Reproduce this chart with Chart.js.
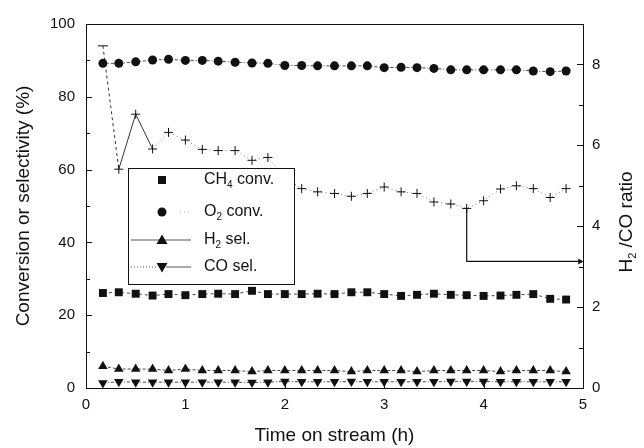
<!DOCTYPE html>
<html>
<head>
<meta charset="utf-8">
<script src="https://cdn.jsdelivr.net/npm/chart.js@4.4.0/dist/chart.umd.min.js"></script>
<style>
  html, body { margin: 0; padding: 0; background: #fff; }
  #wrap { width: 644px; height: 448px; }
</style>
</head>
<body>
<div id="wrap"><canvas id="chart" width="644" height="448"></canvas></div>
<script>
// time on stream, one sample every 10 min
const hours = [0.17, 0.33, 0.5, 0.67, 0.83, 1.0, 1.17, 1.33, 1.5, 1.67, 1.83, 2.0, 2.17, 2.33, 2.5,
  2.67, 2.83, 3.0, 3.17, 3.33, 3.5, 3.67, 3.83, 4.0, 4.17, 4.33, 4.5, 4.67, 4.83];

const ch4Conv = [26.1, 26.3, 25.9, 25.4, 25.8, 25.5, 25.8, 25.9, 25.8, 26.7, 25.8, 25.8, 25.8, 25.9, 25.8,
  26.3, 26.3, 25.8, 25.3, 25.6, 25.9, 25.6, 25.5, 25.3, 25.4, 25.6, 25.8, 24.5, 24.3];
const o2Conv = [89.2, 89.2, 89.6, 90.1, 90.3, 90.0, 90.0, 89.8, 89.5, 89.3, 89.2, 88.6, 88.6, 88.5, 88.5,
  88.5, 88.5, 88.0, 88.1, 88.0, 87.8, 87.4, 87.4, 87.4, 87.4, 87.4, 87.1, 86.9, 87.1];
const h2Sel = [6.0, 5.2, 5.2, 5.2, 4.8, 5.2, 4.8, 4.8, 4.8, 4.5, 4.8, 4.8, 4.8, 4.8, 4.8,
  4.5, 4.8, 4.8, 4.8, 4.5, 4.8, 4.8, 4.8, 4.8, 4.5, 4.8, 4.8, 4.8, 4.5];
const coSel = [1.4, 1.7, 1.6, 1.6, 1.6, 1.6, 1.6, 1.6, 1.6, 1.5, 1.6, 1.8, 1.7, 1.7, 1.7,
  1.8, 1.7, 1.7, 1.7, 1.7, 1.7, 1.8, 1.8, 1.8, 1.7, 1.7, 1.7, 1.7, 1.7];
const h2coRatio = [8.46, 5.41, 6.77, 5.91, 6.32, 6.13, 5.90, 5.87, 5.87, 5.63, 5.70, 5.20, 4.93, 4.85, 4.81,
  4.74, 4.81, 4.97, 4.85, 4.81, 4.60, 4.55, 4.44, 4.63, 4.92, 5.00, 4.93, 4.71, 4.93];

// arrow pointing the ratio curve at the right axis
const arrowX = [3.83, 3.83, 4.97];
const arrowY = [4.44, 3.13, 3.13];

const FONT = '"Liberation Sans", Arial, Helvetica, sans-serif';
const INK = '#111';

function pts(xs, ys) {
  return ys.map((v, i) => ({ x: xs[i], y: v }));
}

// text with subscripts: parts = [[text, isSub], ...]
function drawRich(ctx, parts, x, y, size) {
  let cx = x;
  for (let [txt, sub] of parts) {
    ctx.font = (sub ? Math.round(size * 0.6) : size) + 'px ' + FONT;
    ctx.fillText(txt, cx, sub ? y + size * 0.3 : y);
    cx += ctx.measureText(txt).width;
  }
  return cx - x;
}

function marker(ctx, style, x, y) {
  ctx.fillStyle = INK;
  ctx.beginPath();
  if (style === 'rect') {
    ctx.rect(x - 4, y - 4, 8, 8);
  } else if (style === 'circle') {
    ctx.arc(x, y, 4.5, 0, Math.PI * 2);
  } else if (style === 'up') {
    ctx.moveTo(x, y - 5.5); ctx.lineTo(x + 5.5, y + 4); ctx.lineTo(x - 5.5, y + 4);
  } else {
    ctx.moveTo(x, y + 5.5); ctx.lineTo(x + 5.5, y - 4); ctx.lineTo(x - 5.5, y - 4);
  }
  ctx.closePath();
  ctx.fill();
}

const legendBox = {
  id: 'legendBox',
  afterDatasetsDraw(chart) {
    const ctx = chart.ctx;
    ctx.save();
    ctx.fillStyle = '#fff';
    ctx.fillRect(128, 168, 167, 117);
    ctx.strokeStyle = INK;
    ctx.lineWidth = 1;
    ctx.strokeRect(128.5, 168.5, 166, 116);

    const rows = [
      { y: 180, m: 'rect', parts: [['CH', false], ['4', true], [' conv.', false]], line: null },
      { y: 212, m: 'circle', parts: [['O', false], ['2', true], [' conv.', false]], line: 'dots' },
      { y: 240, m: 'up', parts: [['H', false], ['2', true], [' sel.', false]], line: 'solid' },
      { y: 267, m: 'down', parts: [['CO sel.', false]], line: 'mixed' }
    ];
    for (let r of rows) {
      ctx.strokeStyle = '#555';
      ctx.lineWidth = 1;
      if (r.line === 'solid') {
        ctx.setLineDash([]);
        ctx.beginPath(); ctx.moveTo(131, r.y); ctx.lineTo(191, r.y); ctx.stroke();
      } else if (r.line === 'mixed') {
        ctx.setLineDash([1, 2]);
        ctx.beginPath(); ctx.moveTo(131, r.y); ctx.lineTo(158, r.y); ctx.stroke();
        ctx.setLineDash([]);
        ctx.beginPath(); ctx.moveTo(166, r.y); ctx.lineTo(191, r.y); ctx.stroke();
      } else if (r.line === 'dots') {
        ctx.setLineDash([1, 3]);
        ctx.strokeStyle = '#aaa';
        ctx.beginPath(); ctx.moveTo(180, r.y); ctx.lineTo(191, r.y); ctx.stroke();
      }
      ctx.setLineDash([]);
      marker(ctx, r.m, 162, r.y);
      ctx.fillStyle = INK;
      ctx.textBaseline = 'middle';
      ctx.textAlign = 'left';
      drawRich(ctx, r.parts, 204, r.y, 16);
    }
    ctx.restore();
  }
};

const frame = {
  id: 'frame',
  afterDraw(chart) {
    const ctx = chart.ctx;
    const a = chart.chartArea;
    const { x, y, y2 } = chart.scales;
    ctx.save();
    ctx.strokeStyle = INK;
    ctx.lineWidth = 1;
    ctx.beginPath();
    ctx.moveTo(a.left, a.top + 0.5); ctx.lineTo(a.right, a.top + 0.5);
    // inward ticks
    for (let t of x.ticks) {
      const px = Math.round(x.getPixelForValue(t.value)) + 0.5;
      ctx.moveTo(px, a.bottom); ctx.lineTo(px, a.bottom - 5);
    }
    for (let t of y.ticks) {
      const py = Math.round(y.getPixelForValue(t.value)) + 0.5;
      const len = t.value % 20 === 0 ? 6 : 4;
      ctx.moveTo(a.left, py); ctx.lineTo(a.left + len, py);
    }
    for (let t of y2.ticks) {
      const py = Math.round(y2.getPixelForValue(t.value)) + 0.5;
      const len = t.value % 2 === 0 ? 6 : 4;
      ctx.moveTo(a.right, py); ctx.lineTo(a.right - len, py);
    }
    ctx.stroke();

    // right axis title, reading bottom to top
    ctx.translate(627, 222);
    ctx.rotate(-Math.PI / 2);
    ctx.fillStyle = INK;
    ctx.textBaseline = 'middle';
    ctx.textAlign = 'left';
    ctx.font = '19px ' + FONT;
    const parts = [['H', false], ['2', true], [' /CO ratio', false]];
    let w = 0;
    for (let [txt, sub] of parts) {
      ctx.font = (sub ? 11 : 19) + 'px ' + FONT;
      w += ctx.measureText(txt).width;
    }
    drawRich(ctx, parts, -w / 2, 0, 19);
    ctx.restore();
  }
};

const lineBase = {
  showLine: true,
  fill: false,
  borderWidth: 1,
  borderColor: '#444',
  pointBackgroundColor: INK,
  pointBorderColor: INK,
  pointBorderWidth: 0,
  clip: false,
  yAxisID: 'y'
};

new Chart(document.getElementById('chart'), {
  type: 'scatter',
  data: {
    datasets: [
      Object.assign({}, lineBase, {
        label: 'CH4 conv.', data: pts(hours, ch4Conv),
        pointStyle: 'rect', pointRadius: 5.6, borderDash: [3, 3]
      }),
      Object.assign({}, lineBase, {
        label: 'O2 conv.', data: pts(hours, o2Conv),
        pointStyle: 'circle', pointRadius: 4.5, borderDash: [3, 2, 1, 2]
      }),
      Object.assign({}, lineBase, {
        label: 'H2 sel.', data: pts(hours, h2Sel),
        pointStyle: 'triangle', pointRadius: 5.5, borderDash: [3, 2]
      }),
      Object.assign({}, lineBase, {
        label: 'CO sel.', data: pts(hours, coSel),
        pointStyle: 'triangle', pointRotation: 180, pointRadius: 5.5, borderDash: [3, 2, 1, 2]
      }),
      Object.assign({}, lineBase, {
        label: 'H2/CO ratio', data: pts(hours, h2coRatio), yAxisID: 'y2',
        pointStyle: h2coRatio.map((v, i) => i === 0 ? 'line' : 'cross'),
        pointRadius: h2coRatio.map((v, i) => i === 0 ? 5 : 4.5),
        pointBorderWidth: 1, pointBorderColor: INK,
        segment: {
          borderDash: (c) => c.p0DataIndex === 0 ? [3, 3] : (c.p0DataIndex < 3 ? [] : [1, 3]),
          borderColor: (c) => c.p0DataIndex < 3 ? '#333' : '#777'
        }
      }),
      Object.assign({}, lineBase, {
        label: 'arrow', data: pts(arrowX, arrowY), yAxisID: 'y2',
        borderColor: INK, borderWidth: 1.2,
        pointStyle: 'triangle', pointRotation: 90,
        pointRadius: [0, 0, 3.5], pointBorderWidth: 0
      })
    ]
  },
  options: {
    responsive: false,
    animation: false,
    layout: { padding: { top: 24, left: 0, right: 0, bottom: 0 } },
    plugins: { legend: { display: false }, tooltip: { enabled: false } },
    scales: {
      x: {
        type: 'linear', min: 0, max: 5,
        grid: { display: false, drawTicks: false },
        border: { display: true, color: INK, width: 1 },
        ticks: { stepSize: 1, padding: 8, color: INK, font: { family: FONT, size: 15 } },
        title: { display: true, text: 'Time on stream (h)', color: INK,
          font: { family: FONT, size: 19 }, padding: { top: 0, bottom: 1 } },
        afterFit: (s) => { s.height = 60; }
      },
      y: {
        position: 'left', min: 0, max: 100,
        grid: { display: false, drawTicks: false },
        border: { display: true, color: INK, width: 1 },
        ticks: { stepSize: 10, padding: 11, color: INK, font: { family: FONT, size: 15 },
          callback: (v) => v % 20 === 0 ? v : '' },
        title: { display: true, text: 'Conversion or selectivity (%)', color: INK,
          font: { family: FONT, size: 19 }, padding: { top: 12, bottom: 0 } },
        afterFit: (s) => { s.width = 86; }
      },
      y2: {
        position: 'right', min: 0, max: 9,
        grid: { display: false, drawTicks: false },
        border: { display: true, color: INK, width: 1 },
        ticks: { stepSize: 1, padding: 9, color: INK, font: { family: FONT, size: 15 },
          callback: (v) => v % 2 === 0 ? v : '' },
        afterFit: (s) => { s.width = 61; }
      }
    }
  },
  plugins: [legendBox, frame]
});
</script>
</body>
</html>
